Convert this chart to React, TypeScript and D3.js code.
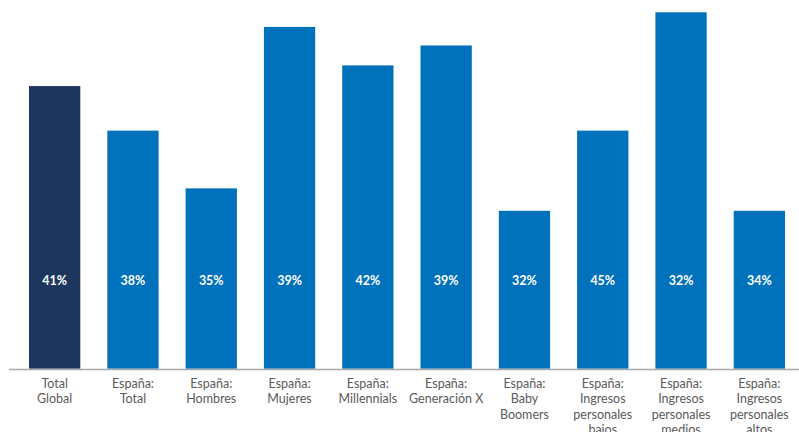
import React, { useEffect, useRef } from "react";
import * as d3 from "d3";

// category labels (line breaks as in the original)
const categories = [
  ["Total", "Global"],
  ["España:", "Total"],
  ["España:", "Hombres"],
  ["España:", "Mujeres"],
  ["España:", "Millennials"],
  ["España:", "Generación X"],
  ["España:", "Baby", "Boomers"],
  ["España:", "Ingresos", "personales", "bajos"],
  ["España:", "Ingresos", "personales", "medios"],
  ["España:", "Ingresos", "personales", "altos"],
];

// bar heights (relative scale, max = 100)
const heights = [79.3, 66.8, 50.6, 95.9, 85.1, 90.7, 44.3, 66.8, 100, 44.3];

// value labels printed inside the bars
const labels = ["41%", "38%", "35%", "39%", "42%", "39%", "32%", "45%", "32%", "34%"];

const App: React.FC = () => {
  const svgRef = useRef<SVGSVGElement | null>(null);

  useEffect(() => {
    if (!svgRef.current) return;

    const width = 799;
    const height = 432;
    const baseline = 368.7;

    d3.select(svgRef.current).selectAll("*").remove();
    const svg = d3
      .select(svgRef.current)
      .attr("width", width)
      .attr("height", height);

    const keys = categories.map((_, i) => String(i));

    const xScale = d3
      .scaleBand()
      .domain(keys)
      .range([15.5, 798.5])
      .paddingInner(0.345)
      .paddingOuter(0.1725);

    const yScale = d3.scaleLinear().domain([0, 100]).range([baseline, 12.3]);

    // bars
    svg
      .selectAll(".bar")
      .data(heights)
      .enter()
      .append("rect")
      .attr("class", "bar")
      .attr("x", (_, i) => xScale(keys[i])!)
      .attr("y", (d) => yScale(d))
      .attr("width", xScale.bandwidth())
      .attr("height", (d) => baseline - yScale(d))
      .attr("fill", (_, i) => (i === 0 ? "#1d365e" : "#0071bb"));

    // baseline
    svg
      .append("line")
      .attr("x1", 9)
      .attr("x2", width)
      .attr("y1", baseline + 0.8)
      .attr("y2", baseline + 0.8)
      .attr("stroke", "#a8a8a8")
      .attr("stroke-width", 1.5);

    // value labels at a fixed height inside each bar
    svg
      .selectAll(".val")
      .data(labels)
      .enter()
      .append("text")
      .attr("class", "val")
      .attr("x", (_, i) => xScale(keys[i])! + xScale.bandwidth() / 2)
      .attr("y", baseline - 84)
      .attr("text-anchor", "middle")
      .attr("fill", "white")
      .style("font-family", "Lato, sans-serif")
      .style("font-weight", 700)
      .style("font-size", "12.5px")
      .text((d) => d);

    // category labels
    const cat = svg
      .selectAll(".cat")
      .data(categories)
      .enter()
      .append("text")
      .attr("class", "cat")
      .attr("text-anchor", "middle")
      .attr("fill", "#5a5a5a")
      .style("font-family", "Lato, sans-serif")
      .style("font-size", "12.5px");

    cat.each(function (lines, i) {
      const xPos = xScale(keys[i])! + xScale.bandwidth() / 2;
      d3.select(this)
        .selectAll("tspan")
        .data(lines)
        .enter()
        .append("tspan")
        .attr("x", xPos)
        .attr("y", (_, j) => baseline + 19 + j * 15.5)
        .text((d) => d);
    });
  }, []);

  return (
    <div style={{ position: "absolute", left: 0, top: 0, background: "white" }}>
      <svg ref={svgRef} style={{ display: "block" }}></svg>
    </div>
  );
};

export default App;
